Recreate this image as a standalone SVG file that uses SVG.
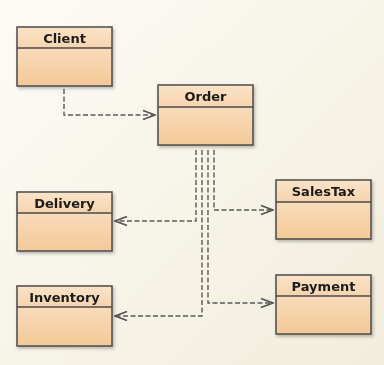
<svg xmlns="http://www.w3.org/2000/svg" width="384" height="365" viewBox="0 0 384 365">
<defs>
<linearGradient id="bg" x1="0" y1="0" x2="1" y2="1">
<stop offset="0" stop-color="#fcfbf6"/>
<stop offset="1" stop-color="#f2eddb"/>
</linearGradient>
<linearGradient id="hd" x1="0" y1="0" x2="0" y2="1">
<stop offset="0" stop-color="#fae3c8"/>
<stop offset="1" stop-color="#f6d4ac"/>
</linearGradient>
<linearGradient id="bd" x1="0" y1="0" x2="0" y2="1">
<stop offset="0" stop-color="#f8dcbb"/>
<stop offset="1" stop-color="#f4c996"/>
</linearGradient>
<marker id="ah" viewBox="0 0 14 12" refX="13" refY="6" markerWidth="14" markerHeight="12" markerUnits="userSpaceOnUse" orient="auto">
<path d="M1,1.5 L13,6 L1,10.5" fill="none" stroke="#555" stroke-width="1.8"/>
</marker>
<filter id="sh" x="-10%" y="-10%" width="130%" height="130%">
<feDropShadow dx="1.5" dy="2" stdDeviation="1.5" flood-color="#000" flood-opacity="0.25"/>
</filter>
</defs>
<style>
.box{filter:url(#sh)}
.hd{fill:url(#hd)}
.bd{fill:url(#bd)}
.fr{fill:none;stroke:#4a4a4a;stroke-width:1.5}
.dv{stroke:#4a4a4a;stroke-width:1.3}
.t{font-family:"DejaVu Sans",sans-serif;font-weight:bold;font-size:13px;fill:#1a1a1a;text-anchor:middle}
.c{fill:none;stroke:#5a5a5a;stroke-width:1.4;stroke-dasharray:5,2.5}
</style>
<rect width="384" height="365" fill="url(#bg)"/>
<g id="connectors">
<path class="c" d="M64,89 V115 H155" marker-end="url(#ah)"/>
<path class="c" d="M196,150 V221 H115" marker-end="url(#ah)"/>
<path class="c" d="M202,150 V316 H115" marker-end="url(#ah)"/>
<path class="c" d="M208,150 V303 H273" marker-end="url(#ah)"/>
<path class="c" d="M214,150 V210 H273" marker-end="url(#ah)"/>
</g>
<g id="client" class="box">
<rect class="hd" x="17" y="27" width="95" height="21"/>
<rect class="bd" x="17" y="48" width="95" height="38"/>
<rect class="fr" x="17" y="27" width="95" height="59"/>
<line class="dv" x1="17" y1="48" x2="112" y2="48"/>
<text class="t" x="64.5" y="43">Client</text>
</g>
<g id="order" class="box">
<rect class="hd" x="158" y="85" width="95" height="22"/>
<rect class="bd" x="158" y="107" width="95" height="38"/>
<rect class="fr" x="158" y="85" width="95" height="60"/>
<line class="dv" x1="158" y1="107" x2="253" y2="107"/>
<text class="t" x="205.5" y="101">Order</text>
</g>
<g id="delivery" class="box">
<rect class="hd" x="17" y="192" width="95" height="21"/>
<rect class="bd" x="17" y="213" width="95" height="38"/>
<rect class="fr" x="17" y="192" width="95" height="59"/>
<line class="dv" x1="17" y1="213" x2="112" y2="213"/>
<text class="t" x="64.5" y="208">Delivery</text>
</g>
<g id="inventory" class="box">
<rect class="hd" x="17" y="286" width="95" height="21"/>
<rect class="bd" x="17" y="307" width="95" height="39"/>
<rect class="fr" x="17" y="286" width="95" height="60"/>
<line class="dv" x1="17" y1="307" x2="112" y2="307"/>
<text class="t" x="64.5" y="302">Inventory</text>
</g>
<g id="salestax" class="box">
<rect class="hd" x="276" y="180" width="95" height="22"/>
<rect class="bd" x="276" y="202" width="95" height="37"/>
<rect class="fr" x="276" y="180" width="95" height="59"/>
<line class="dv" x1="276" y1="202" x2="371" y2="202"/>
<text class="t" x="323.5" y="196">SalesTax</text>
</g>
<g id="payment" class="box">
<rect class="hd" x="276" y="275" width="95" height="21"/>
<rect class="bd" x="276" y="296" width="95" height="38"/>
<rect class="fr" x="276" y="275" width="95" height="59"/>
<line class="dv" x1="276" y1="296" x2="371" y2="296"/>
<text class="t" x="323.5" y="291">Payment</text>
</g>
</svg>
